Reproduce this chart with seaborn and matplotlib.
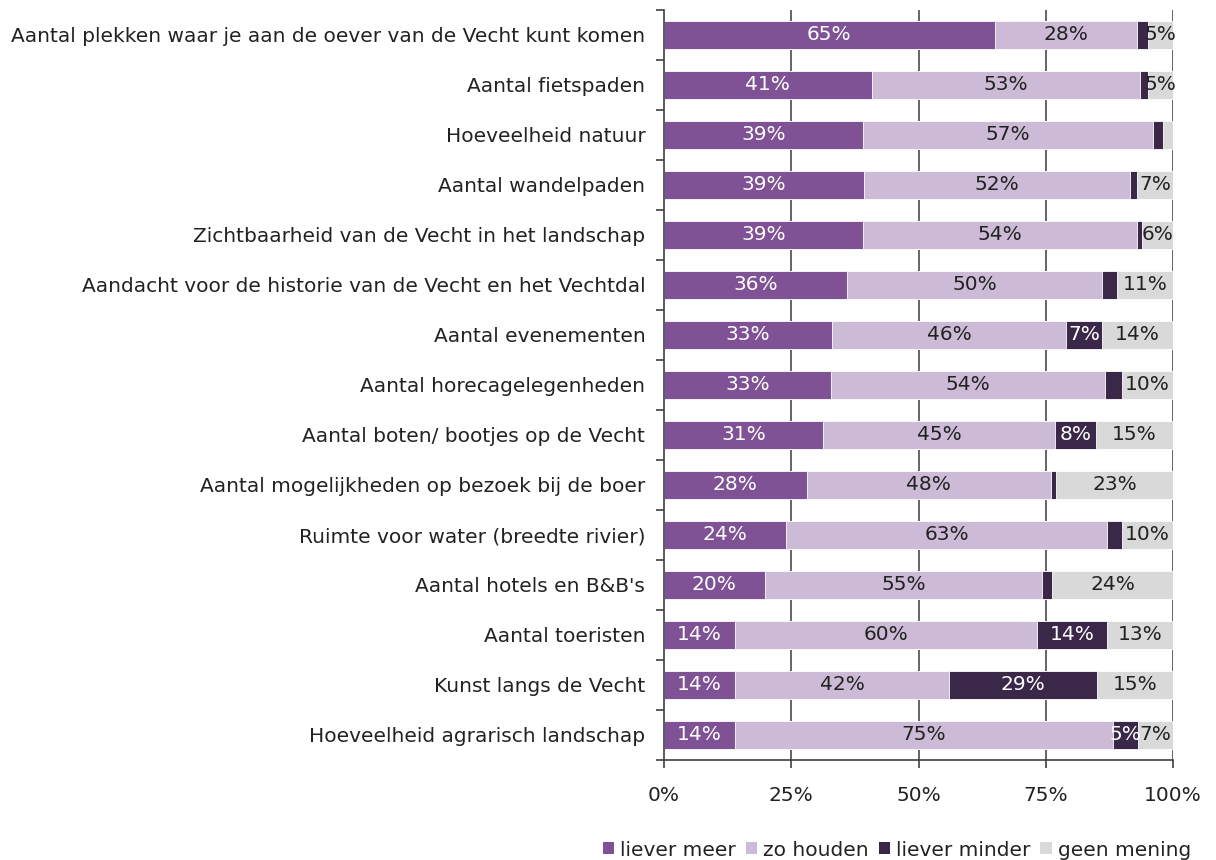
import numpy as np
import pandas as pd
import matplotlib
matplotlib.use("Agg")
import matplotlib.pyplot as plt
import seaborn as sns
from matplotlib.patches import Patch
from matplotlib.ticker import FixedLocator

categories = [
    "Aantal plekken waar je aan de oever van de Vecht kunt komen",
    "Aantal fietspaden",
    "Hoeveelheid natuur",
    "Aantal wandelpaden",
    "Zichtbaarheid van de Vecht in het landschap",
    "Aandacht voor de historie van de Vecht en het Vechtdal",
    "Aantal evenementen",
    "Aantal horecagelegenheden",
    "Aantal boten/ bootjes op de Vecht",
    "Aantal mogelijkheden op bezoek bij de boer",
    "Ruimte voor water (breedte rivier)",
    "Aantal hotels en B&B's",
    "Aantal toeristen",
    "Kunst langs de Vecht",
    "Hoeveelheid agrarisch landschap",
]
liever_meer = [65, 41, 39, 39, 39, 36, 33, 33, 31, 28, 24, 20, 14, 14, 14]
zo_houden = [28, 53, 57, 52, 54, 50, 46, 54, 45, 48, 63, 55, 60, 42, 75]
liever_minder = [2, 1.5, 2, 1.5, 1, 3, 7, 3.5, 8, 1, 3, 2, 14, 29, 5]
geen_mening = [5, 5, 2, 7, 6, 11, 14, 10, 15, 23, 10, 24, 13, 15, 7]

series_names = ["liever meer", "zo houden", "liever minder", "geen mening"]
series_values = [liever_meer, zo_houden, liever_minder, geen_mening]
colors = ["#7E5294", "#CCBAD7", "#3B2747", "#D9D9D9"]
text_colors = ["white", "#222222", "white", "#222222"]
xticks = [0, 25, 50, 75, 100]
xticklabels = ["0%", "25%", "50%", "75%", "100%"]

sns.set_theme(style="white")
plt.rcParams["font.family"] = ["DejaVu Sans"]
FS = 14.5

fig = plt.figure(figsize=(12.16, 8.6), dpi=100)
ax = fig.add_axes([664 / 1216, 1 - 760 / 860, 509 / 1216, 750 / 860])

arr = np.array(series_values, dtype=float)
total = arr.sum(axis=0)
norm = arr * (100.0 / total)
cum = np.cumsum(norm, axis=0)

# gridlines behind the bars
for t in xticks[1:]:
    ax.axvline(t, color="#4a4a4a", linewidth=1.2, zorder=0.5)

# draw cumulative bars, largest first so smaller overlap on top
for i in range(3, -1, -1):
    df = pd.DataFrame({"cat": categories, "val": cum[i]})
    sns.barplot(data=df, x="val", y="cat", orient="h", color=colors[i],
                saturation=1, width=0.56, ax=ax, edgecolor="white",
                linewidth=0.6)
for p in ax.patches:
    p.set_zorder(3)

for i in range(4):
    starts = cum[i] - norm[i]
    for j, cat in enumerate(categories):
        v = series_values[i][j]
        if v >= 5:
            ax.text(starts[j] + norm[i][j] / 2, j, f"{int(round(v))}%",
                    ha="center", va="center", fontsize=FS,
                    color=text_colors[i], zorder=5)

ax.set_xlim(0, 100)
ax.set_ylim(14.5, -0.5)
ax.set_xlabel("")
ax.set_ylabel("")
ax.set_xticks(xticks)
ax.set_xticklabels(xticklabels, fontsize=FS, color="#222222")
ax.tick_params(axis="y", which="major", length=0, pad=13.5, labelsize=FS, labelcolor="#222222")
ax.yaxis.set_minor_locator(FixedLocator(np.arange(-0.5, 15, 1)))
ax.tick_params(axis="y", which="minor", length=6, width=1.2, color="#404040", left=True)
ax.tick_params(axis="x", which="major", length=6, width=1.2, color="#404040", bottom=True, pad=13)

ax.grid(False)
for s in ["top", "right"]:
    ax.spines[s].set_visible(False)
for s in ["left", "bottom"]:
    ax.spines[s].set_color("#404040")
    ax.spines[s].set_linewidth(1.2)
    ax.spines[s].set_zorder(4)

handles = [Patch(facecolor=c, edgecolor="none") for c in colors]
fig.legend(handles, series_names, loc="center", bbox_to_anchor=(897 / 1216, 1 - 850 / 860),
           ncol=4, frameon=False, fontsize=FS, handlelength=0.55, handleheight=0.55,
           handletextpad=0.3, columnspacing=0.5, labelcolor="#222222")

fig.savefig("out.png", dpi=100)
